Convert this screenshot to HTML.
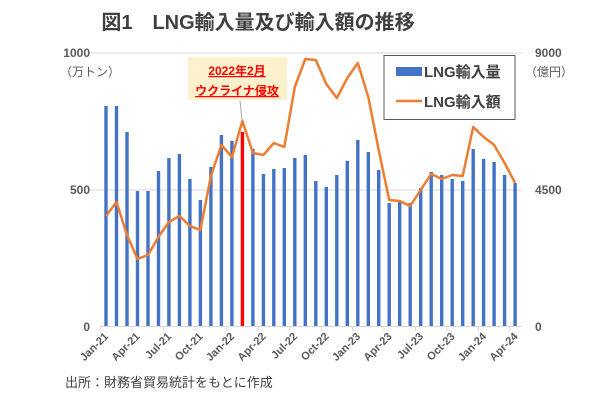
<!DOCTYPE html>
<html><head><meta charset="utf-8"><style>
body{margin:0;background:#fff;}
svg text{font-family:"Liberation Sans","Noto Sans CJK JP",sans-serif;fill:#595959;}
</style></head><body>
<svg id="c" width="600" height="400" viewBox="0 0 600 400" xmlns="http://www.w3.org/2000/svg">
<rect width="600" height="400" fill="#fff"/>
<text x="258" y="29" text-anchor="middle" font-size="20" font-weight="bold" style="fill:#404040">図1　LNG輸入量及び輸入額の推移</text>
<line x1="88" y1="53" x2="522" y2="53" stroke="#d9d9d9" stroke-width="1"/>
<line x1="88" y1="190" x2="522" y2="190" stroke="#d9d9d9" stroke-width="1"/>
<line x1="100" y1="326.5" x2="522" y2="326.5" stroke="#d9d9d9" stroke-width="1"/>
<g font-size="12" font-weight="bold">
<text x="90" y="57" text-anchor="end">1000</text>
<text x="60" y="76" font-size="12" font-weight="normal">（万トン）</text>
<text x="90" y="194" text-anchor="end">500</text>
<text x="90" y="331" text-anchor="end">0</text>
<text x="535" y="57">9000</text>
<text x="525" y="76" font-weight="normal">（億円）</text>
<text x="535" y="194">4500</text>
<text x="535" y="331">0</text>
</g>
<g id="bars"></g>
<polyline id="ln" fill="none" stroke="#ed7d31" stroke-width="2.5" stroke-linejoin="round"/>
<line x1="240" y1="101" x2="242" y2="120" stroke="#a6a6a6" stroke-width="1"/>
<rect x="188" y="57" width="99" height="43" fill="#fdf0cc"/>
<text x="237" y="75" text-anchor="middle" font-size="12" font-weight="bold" text-decoration="underline" style="fill:#ff0000">2022年2月</text>
<text x="237" y="95" text-anchor="middle" font-size="12" font-weight="bold" text-decoration="underline" style="fill:#ff0000">ウクライナ侵攻</text>
<rect x="384" y="55.5" width="131" height="64" fill="#fff" stroke="#595959" stroke-width="1"/>
<rect x="396" y="67" width="26" height="9" fill="#4472c4"/>
<text x="424" y="77" font-size="15" font-weight="bold" style="fill:#404040">LNG輸入量</text>
<line x1="396" y1="101" x2="422" y2="101" stroke="#ed7d31" stroke-width="2.5"/>
<text x="424" y="107" font-size="15" font-weight="bold" style="fill:#404040">LNG輸入額</text>
<text x="65" y="387" font-size="13" style="fill:#404040">出所：財務省貿易統計をもとに作成</text>
<g font-size="11" font-weight="bold" style="fill:#595959">
<text transform="translate(109,337) rotate(-45)" text-anchor="end">Jan-21</text>
<text transform="translate(140.5,337) rotate(-45)" text-anchor="end">Apr-21</text>
<text transform="translate(172,337) rotate(-45)" text-anchor="end">Jul-21</text>
<text transform="translate(203.5,337) rotate(-45)" text-anchor="end">Oct-21</text>
<text transform="translate(235,337) rotate(-45)" text-anchor="end">Jan-22</text>
<text transform="translate(266.5,337) rotate(-45)" text-anchor="end">Apr-22</text>
<text transform="translate(298,337) rotate(-45)" text-anchor="end">Jul-22</text>
<text transform="translate(329.5,337) rotate(-45)" text-anchor="end">Oct-22</text>
<text transform="translate(361,337) rotate(-45)" text-anchor="end">Jan-23</text>
<text transform="translate(392.5,337) rotate(-45)" text-anchor="end">Apr-23</text>
<text transform="translate(424,337) rotate(-45)" text-anchor="end">Jul-23</text>
<text transform="translate(455.5,337) rotate(-45)" text-anchor="end">Oct-23</text>
<text transform="translate(487,337) rotate(-45)" text-anchor="end">Jan-24</text>
<text transform="translate(518.5,337) rotate(-45)" text-anchor="end">Apr-24</text>
</g>
<g id="tk" stroke="#d9d9d9"></g>
</svg>
<script>
var bt=[106,106,132,191,191,171,158,154,179,200,167,135,141,132,149,174,169,168,158,155,181,187,175,161,140,152,170,203,201,203,188,172,175,179,181,149,159,162,175,183];
var lt=[216,202,235,259,255,237,222,216,226,230,176,145,157,121,153,155,143,147,87,59,60,84,98,78,63,97,150,200,201,206,190,174,179,175,176,127,137,145,163,183];
var ns="http://www.w3.org/2000/svg",g=document.getElementById("bars"),pts=[];
for(var i=0;i<40;i++){var x=106+i*10.49;var r=document.createElementNS(ns,"rect");
r.setAttribute("x",(x-1.7).toFixed(1));r.setAttribute("y",bt[i]);r.setAttribute("width",3.4);r.setAttribute("height",326-bt[i]);
r.setAttribute("fill",i==13?"#ff0000":"#4472c4");g.appendChild(r);pts.push(x.toFixed(1)+","+lt[i]);}
document.getElementById("ln").setAttribute("points",pts.join(" "));
var tk=document.getElementById("tk");
for(var j=0;j<14;j++){var tx=100.8+j*31.47;var l=document.createElementNS(ns,"line");
l.setAttribute("x1",tx);l.setAttribute("x2",tx);l.setAttribute("y1",326);l.setAttribute("y2",331);tk.appendChild(l);}
</script>
</body></html>
